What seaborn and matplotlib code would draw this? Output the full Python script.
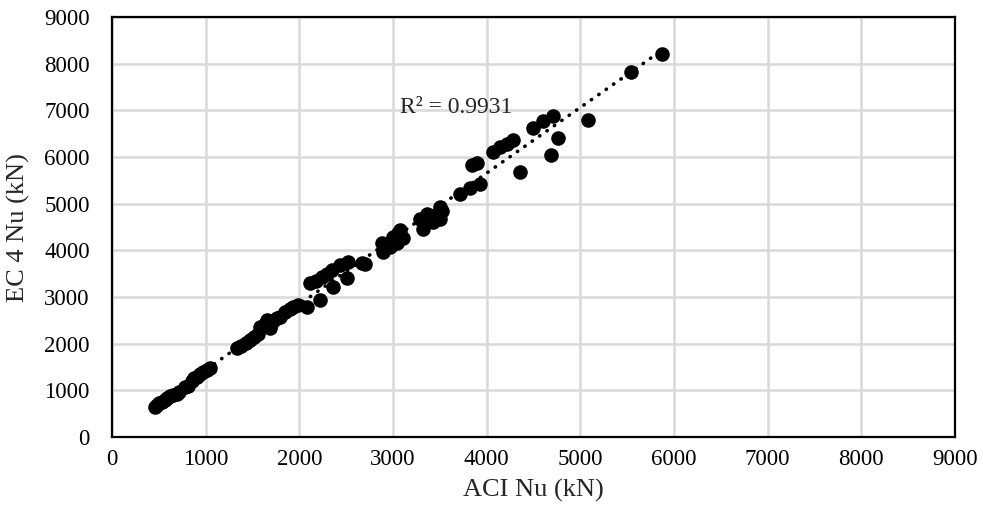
import numpy as np
import pandas as pd
import matplotlib
matplotlib.use("Agg")
import matplotlib.pyplot as plt
import seaborn as sns

# ── Données ─────────────────────────────────────────────────────────────────
aci_nu = [459, 480, 500, 530, 560, 584, 620, 650, 690, 720, 780, 815, 850, 880,
          904, 940, 975, 1010, 1046,
          1331, 1380, 1430, 1473, 1520, 1560, 1580, 1620, 1651, 1687, 1700, 1730,
          1760, 1793, 1850, 1900, 1935, 1980, 2078, 2220,
          2113, 2180, 2238, 2300, 2345, 2362, 2434, 2505, 2523, 2665, 2700,
          2878, 2896, 2967, 3002, 3038, 3074, 3109, 3050,
          3287, 3323, 3358, 3429, 3465, 3500, 3500, 3520,
          3714, 3821, 3927, 3840, 3900,
          4063, 4141, 4212, 4283, 4354, 4497, 4603, 4682, 4703, 4763, 5083, 5546, 5867]
ec4_nu = [650, 690, 720, 760, 800, 829, 870, 900, 920, 960, 1080, 1090, 1200, 1260,
          1293, 1340, 1400, 1440, 1471,
          1900, 1950, 2020, 2078, 2150, 2200, 2364, 2400, 2507, 2329, 2420, 2500,
          2550, 2578, 2680, 2750, 2792, 2830, 2790, 2934,
          3291, 3350, 3432, 3500, 3576, 3219, 3683, 3398, 3754, 3720, 3700,
          4148, 3968, 4076, 4290, 4148, 4433, 4255, 4380,
          4683, 4469, 4789, 4611, 4789, 4932, 4683, 4850,
          5203, 5347, 5418, 5820, 5880,
          6109, 6217, 6289, 6360, 5681, 6631, 6773, 6053, 6874, 6418, 6788, 7823, 8201]
ticks = [0, 1000, 2000, 3000, 4000, 5000, 6000, 7000, 8000, 9000]
r2_label = "R² = 0.9931"

df = pd.DataFrame({"ACI": aci_nu, "EC4": ec4_nu})

sns.set_theme(style="whitegrid")
plt.rcParams["font.family"] = ["Liberation Serif", "DejaVu Serif"]

fig = plt.figure(figsize=(9.83, 5.19), dpi=100)
ax = fig.add_axes([0.114, 0.158, 0.8575, 0.809])

sns.scatterplot(data=df, x="ACI", y="EC4", ax=ax, color="black", s=110,
                edgecolor="black", linewidth=0, zorder=3)

# Courbe de tendance linéaire
a, b = np.polyfit(df["ACI"], df["EC4"], 1)
xs = np.array([df["ACI"].min(), df["ACI"].max()])
ax.plot(xs, a * xs + b, color="black", linewidth=2.6,
        linestyle=(0, (0.1, 2.4)), dash_capstyle="round", zorder=2)
ax.text(3075, 6940, r2_label, fontsize=17, ha="left", va="baseline")

ax.set_xlim(0, 9000)
ax.set_ylim(0, 9000)
ax.set_xticks(ticks)
ax.set_yticks(ticks)
ax.set_xlabel("ACI Nu (kN)", fontsize=19, labelpad=6)
ax.set_ylabel("EC 4 Nu (kN)", fontsize=19, labelpad=10)
ax.tick_params(axis="both", length=0, labelsize=16.5, colors="black")
ax.tick_params(axis="x", pad=9)
ax.tick_params(axis="y", pad=16)
ax.grid(True, color="#d9d9d9", linewidth=1.8)
for sp in ax.spines.values():
    sp.set_color("black")
    sp.set_linewidth(1.6)

fig.savefig("out.png", dpi=100)
